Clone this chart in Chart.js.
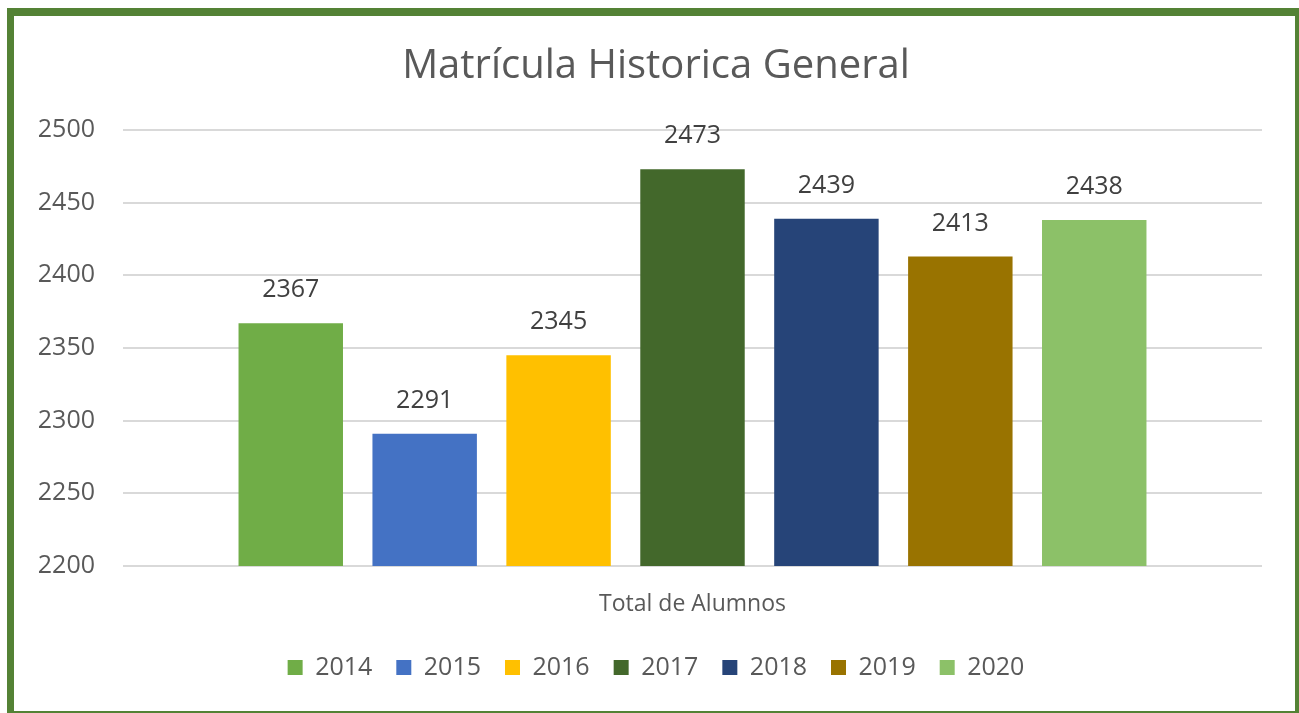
<!DOCTYPE html>
<html>
<head>
<meta charset="utf-8">
<script src="https://cdn.jsdelivr.net/npm/chart.js@4/dist/chart.umd.min.js"></script>
<style>
  html, body { margin: 0; padding: 0; background: #fff; overflow: hidden; }
  #frame {
    position: absolute; left: 7px; top: 8px; width: 1295px; height: 710px;
    box-sizing: border-box; border: 7px solid #548235; border-top-width: 8px;
  }
  #chart { position: absolute; left: 0; top: 0; }
</style>
</head>
<body>
<div id="frame"></div>
<canvas id="chart" width="1312" height="713"></canvas>
<script>
const categories = ['Total de Alumnos'];
const years = ['2014', '2015', '2016', '2017', '2018', '2019', '2020'];
const values = [2367, 2291, 2345, 2473, 2439, 2413, 2438];
const colors = ['#70ad47', '#4472c4', '#ffc000', '#43682b', '#264478', '#997300', '#8cc168'];
const yTicks = [2200, 2250, 2300, 2350, 2400, 2450, 2500];

const FONT = "'Open Sans', sans-serif";

// draws the value above each bar
const valueLabels = {
  id: 'valueLabels',
  afterDatasetsDraw(chart) {
    const ctx = chart.ctx;
    ctx.save();
    ctx.font = '25px ' + FONT;
    ctx.fillStyle = '#404040';
    ctx.textAlign = 'center';
    ctx.textBaseline = 'middle';
    chart.data.datasets.forEach((ds, i) => {
      chart.getDatasetMeta(i).data.forEach((bar, j) => {
        ctx.fillText(ds.data[j], bar.x, bar.y - 33);
      });
    });
    ctx.restore();
  }
};

new Chart(document.getElementById('chart'), {
  type: 'bar',
  data: {
    labels: categories,
    datasets: years.map((y, i) => ({
      label: y,
      data: [values[i]],
      backgroundColor: colors[i],
      categoryPercentage: 0.823,
      barPercentage: 0.78
    }))
  },
  options: {
    responsive: false,
    animation: false,
    layout: { padding: { left: 0, right: 0, top: 0, bottom: 23 } },
    plugins: {
      title: {
        display: true,
        text: 'Matrícula Historica General',
        color: '#595959',
        font: { family: FONT, size: 40, weight: 'normal' },
        padding: { top: 43, bottom: 39 }
      },
      legend: {
        position: 'bottom',
        labels: {
          color: '#595959',
          font: { family: FONT, size: 25 },
          boxWidth: 15,
          boxHeight: 15,
          padding: 24
        }
      },
      tooltip: { enabled: false }
    },
    scales: {
      x: {
        grid: { display: false },
        border: { display: false },
        afterFit: (scale) => { scale.height = 65; },
        ticks: { color: '#595959', font: { family: FONT, size: 23 }, padding: 17 }
      },
      y: {
        min: 2200,
        max: 2500,
        afterBuildTicks: (scale) => { scale.ticks = yTicks.map(v => ({ value: v })); },
        afterFit: (scale) => { scale.width = 123; },
        grid: { color: '#d9d9d9', lineWidth: 2, drawTicks: false },
        border: { display: false },
        ticks: {
          color: '#595959',
          font: { family: FONT, size: 25 },
          padding: 28,
          callback: (v) => String(v)
        }
      },
      // empty right-hand axis, only keeps the plot clear of the right frame
      yRight: {
        position: 'right',
        min: 2200,
        max: 2500,
        afterFit: (scale) => { scale.width = 50; },
        grid: { display: false },
        border: { display: false },
        ticks: { display: false }
      }
    }
  },
  plugins: [valueLabels]
});
</script>
</body>
</html>
